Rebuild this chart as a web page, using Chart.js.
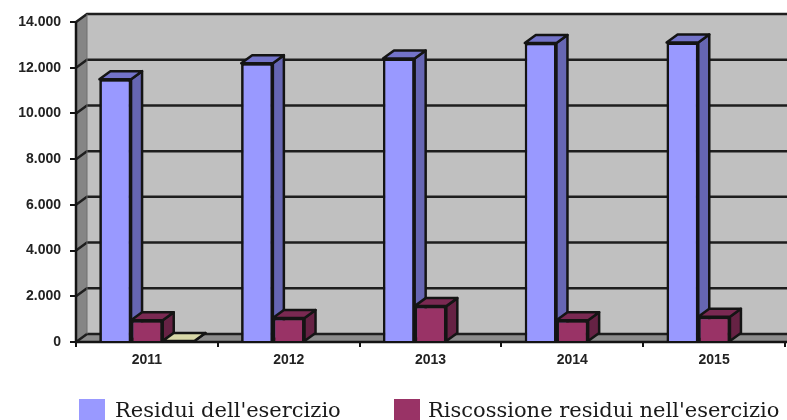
<!DOCTYPE html>
<html>
<head>
<meta charset="utf-8">
<script src="https://cdn.jsdelivr.net/npm/chart.js@4"></script>
<style>
  html, body { margin: 0; padding: 0; background: #fff; }
  #wrap { width: 787px; height: 420px; }
</style>
</head>
<body>
<div id="wrap"><canvas id="chartBar"></canvas></div>
<script>
const anni = ['2011', '2012', '2013', '2014', '2015'];
const residui = [11500, 12200, 12400, 13080, 13100];
const riscossione = [950, 1050, 1570, 950, 1100];
const terzaSerie = [40, 0, 0, 0, 0]; // la barretta piatta del 2011, senza voce in legenda
const yTicks = ['0', '2.000', '4.000', '6.000', '8.000', '10.000', '12.000', '14.000'];

const DX = 11, DY = -8; // profondita' finto 3D
const INK = '#141414';

function poly(ctx, pts, fill) {
  ctx.beginPath();
  pts.forEach((p, i) => i ? ctx.lineTo(p[0], p[1]) : ctx.moveTo(p[0], p[1]));
  ctx.closePath();
  ctx.fillStyle = fill;
  ctx.fill();
  ctx.strokeStyle = INK;
  ctx.lineWidth = 2.5;
  ctx.lineJoin = 'round';
  ctx.stroke();
}

// pareti, pavimento e griglia dietro le barre
const pareti = {
  id: 'pareti',
  beforeDatasetsDraw(chart) {
    const { ctx, chartArea: a, scales: { y } } = chart;
    const right = chart.width;
    const top = y.getPixelForValue(14000), bot = y.getPixelForValue(0);
    ctx.save();
    ctx.fillStyle = '#c0c0c0';
    ctx.fillRect(a.left + DX, top + DY, right - a.left - DX, bot - top);
    ctx.fillStyle = '#858585';
    ctx.beginPath();
    ctx.moveTo(a.left, top); ctx.lineTo(a.left + DX, top + DY);
    ctx.lineTo(a.left + DX, bot + DY); ctx.lineTo(a.left, bot);
    ctx.closePath(); ctx.fill();
    ctx.fillStyle = '#8c8c8c';
    ctx.beginPath();
    ctx.moveTo(a.left, bot); ctx.lineTo(a.left + DX, bot + DY);
    ctx.lineTo(right, bot + DY); ctx.lineTo(right, bot);
    ctx.closePath(); ctx.fill();
    ctx.strokeStyle = '#1e1e1e';
    ctx.lineWidth = 2.5;
    y.ticks.forEach(t => {
      const py = y.getPixelForValue(t.value);
      ctx.beginPath();
      ctx.moveTo(a.left, py); ctx.lineTo(a.left + DX, py + DY); ctx.lineTo(right, py + DY);
      ctx.stroke();
    });
    ctx.lineWidth = 1;
    ctx.strokeStyle = '#6e6e6e';
    ctx.beginPath();
    ctx.moveTo(a.left + DX, top + DY); ctx.lineTo(a.left + DX, bot + DY);
    ctx.stroke();
    ctx.lineWidth = 2.5;
    ctx.strokeStyle = INK;
    ctx.beginPath();
    ctx.moveTo(a.left, top); ctx.lineTo(a.left, bot); ctx.lineTo(right, bot);
    ctx.stroke();
    ctx.restore();
  },
  // Chart.js disegna dall'ultimo dataset al primo: qui si ridisegna dal primo,
  // cosi' ogni barra copre il fianco di quella alla sua sinistra
  afterDatasetsDraw(chart) {
    const { ctx } = chart;
    chart.data.datasets.forEach((ds, d) => {
      chart.getDatasetMeta(d).data.forEach((bar, i) => {
        if (!ds.data[i]) return;
        const { x, y, base, width } = bar.getProps(['x', 'y', 'base', 'width']);
        const l = x - width / 2, r = x + width / 2;
        ctx.save();
        poly(ctx, [[r, y], [r + DX, y + DY], [r + DX, base + DY], [r, base]], ds.sideColor);
        poly(ctx, [[l, y], [l + DX, y + DY], [r + DX, y + DY], [r, y]], ds.topColor);
        ctx.restore();
        bar.draw(ctx);
      });
    });
  },
  // legenda a mano: quella di Chart.js usa lo stesso padding anche in verticale
  afterDraw(chart) {
    const { ctx } = chart;
    const voci = [[0, 79, 115], [1, 394, 428]];
    ctx.save();
    ctx.font = '21px "DejaVu Serif"';
    ctx.textBaseline = 'alphabetic';
    voci.forEach(([d, xBox, xText]) => {
      const ds = chart.data.datasets[d];
      ctx.fillStyle = ds.backgroundColor;
      ctx.fillRect(xBox, 399, 26, 21);
      ctx.fillStyle = '#1a1a1a';
      ctx.fillText(ds.label, xText, 417);
    });
    ctx.restore();
  }
};

new Chart(document.getElementById('chartBar'), {
  type: 'bar',
  plugins: [pareti],
  data: {
    labels: anni,
    datasets: [
      { label: "Residui dell'esercizio", data: residui,
        backgroundColor: '#9999ff', sideColor: '#6666b3', topColor: '#7373c9',
        borderColor: INK, borderWidth: 2.5 },
      { label: "Riscossione residui nell'esercizio", data: riscossione,
        backgroundColor: '#993366', sideColor: '#662244', topColor: '#7a2952',
        borderColor: INK, borderWidth: 2.5 },
      { label: '', data: terzaSerie,
        backgroundColor: '#dcdcae', sideColor: '#b3b38f', topColor: '#d8d8a8',
        borderColor: INK, borderWidth: 1 }
    ]
  },
  options: {
    responsive: true,
    maintainAspectRatio: false,
    animation: false,
    layout: { padding: { left: 0, right: 2, top: 22, bottom: 0 } },
    datasets: { bar: { categoryPercentage: 0.67, barPercentage: 1 } },
    scales: {
      x: {
        grid: { drawOnChartArea: false, drawTicks: true, tickLength: 5, color: INK, lineWidth: 2 },
        border: { display: false },
        ticks: { color: '#222', padding: 5, font: { family: 'Liberation Sans', size: 14, weight: 'bold' }, maxRotation: 0 },
        afterFit(scale) { scale.height = 78; }
      },
      y: {
        min: 0,
        max: 14000,
        grid: { drawOnChartArea: false, drawTicks: true, tickLength: 6, color: INK, lineWidth: 2 },
        border: { display: false },
        ticks: {
          stepSize: 2000,
          color: '#222',
          padding: 9,
          font: { family: 'Liberation Sans', size: 14, weight: 'bold' },
          callback: (v, i) => yTicks[i]
        },
        afterFit(scale) { scale.width = 76; }
      }
    },
    plugins: {
      title: { display: false },
      tooltip: { enabled: false },
      legend: { display: false }
    }
  }
});
</script>
</body>
</html>
